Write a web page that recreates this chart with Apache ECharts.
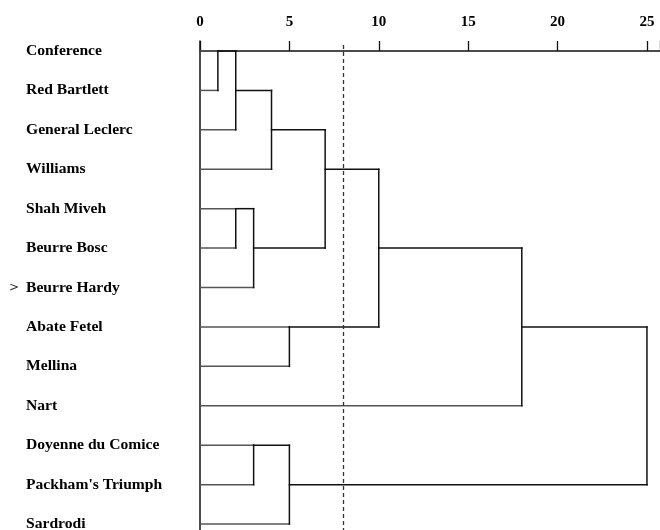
<!DOCTYPE html>
<html>
<head>
<meta charset="utf-8">
<script src="https://cdn.jsdelivr.net/npm/echarts@6/dist/echarts.min.js"></script>
<style>html,body{margin:0;padding:0;background:#fff}#c{width:660px;height:530px}</style>
</head>
<body>
<div id="c"></div>
<script>
// ---- data ----
const leafNames = ["Conference","Red Bartlett","General Leclerc","Williams","Shah Miveh","Beurre Bosc","Beurre Hardy","Abate Fetel","Mellina","Nart","Doyenne du Comice","Packham's Triumph","Sardrodi"];
// merges: child ids (0..12 leaves, 13+ clusters in merge order) and joining distance
const mergeLeft   = [0, 13, 14, 4, 16, 15, 7, 18, 20, 10, 22, 21];
const mergeRight  = [1, 2, 3, 5, 6, 17, 8, 19, 9, 11, 12, 23];
const mergeHeight = [1, 2, 4, 2, 3, 7, 5, 10, 18, 3, 5, 25];
const tickValues = [0, 5, 10, 15, 20, 25];
const cutHeight = 8;
const markedLeaf = 6;

// ---- build dendrogram segments ----
const nLeaf = leafNames.length;
const nodeRow = leafNames.map((_, i) => i);
const nodeH = leafNames.map(() => 0);
const segs = [];
mergeHeight.forEach((h, i) => {
  const a = mergeLeft[i], b = mergeRight[i];
  segs.push([nodeH[a], nodeRow[a], h, nodeRow[a], a < nLeaf ? 0 : 1]);
  segs.push([nodeH[b], nodeRow[b], h, nodeRow[b], b < nLeaf ? 0 : 1]);
  segs.push([h, nodeRow[a], h, nodeRow[b], 1]);
  nodeRow.push(Math.floor((nodeRow[a] + nodeRow[b]) / 2));
  nodeH.push(h);
});
const rowIdx = leafNames.map((_, i) => i);

const chart = echarts.init(document.getElementById('c'), null, {renderer: 'canvas'});
const yMin = -0.2537, yMax = 12.151;
chart.setOption({
  animation: false,
  backgroundColor: '#fff',
  grid: {left: 200, right: 0, top: 41, bottom: 0, containLabel: false, outerBoundsMode: 'none'},
  xAxis: {
    type: 'value', position: 'top', min: 0, max: 25.73, interval: 5,
    axisLine: {show: true, lineStyle: {color: '#111', width: 1.5}},
    axisTick: {show: true, length: 10, inside: false, lineStyle: {color: '#111', width: 1.3}},
    axisLabel: {
      margin: 11, color: '#000', fontFamily: 'Liberation Serif', fontWeight: 'bold', fontSize: 15,
      formatter: v => tickValues.indexOf(v) >= 0 ? String(v) : ''
    },
    splitLine: {show: false}
  },
  yAxis: [{
    type: 'value', inverse: true, min: yMin, max: yMax,
    axisLine: {show: true, lineStyle: {color: '#111', width: 1.5}},
    axisTick: {show: false},
    splitLine: {show: false},
    axisLabel: {
      customValues: rowIdx, align: 'left', margin: 174, color: '#000',
      fontFamily: 'Liberation Serif', fontWeight: 'bold', fontSize: 15.6,
      formatter: v => leafNames[v]
    }
  }, {
    type: 'value', inverse: true, min: yMin, max: yMax, position: 'left',
    axisLine: {show: false}, axisTick: {show: false}, splitLine: {show: false},
    axisLabel: {
      customValues: [markedLeaf], align: 'right', margin: 181, color: '#333',
      fontFamily: 'DejaVu Sans', fontSize: 12,
      formatter: () => '>'
    }
  }],
  series: [{
    type: 'custom',
    coordinateSystem: 'cartesian2d',
    data: segs,
    encode: {x: [0, 2], y: [1, 3]},
    clip: false,
    renderItem: (params, api) => {
      const p1 = api.coord([api.value(0), api.value(1)]);
      const p2 = api.coord([api.value(2), api.value(3)]);
      return {
        type: 'line',
        shape: {x1: p1[0], y1: p1[1], x2: p2[0], y2: p2[1]},
        style: {stroke: api.value(4) === 0 ? '#555' : '#111', lineWidth: 1.5, lineCap: 'square'}
      };
    },
    markLine: {
      silent: true, symbol: 'none', label: {show: false},
      lineStyle: {color: '#333', type: [4, 3], width: 1.3},
      data: [[{coord: [cutHeight, -0.15]}, {coord: [cutHeight, yMax]}]]
    }
  }]
});
</script>
</body>
</html>
